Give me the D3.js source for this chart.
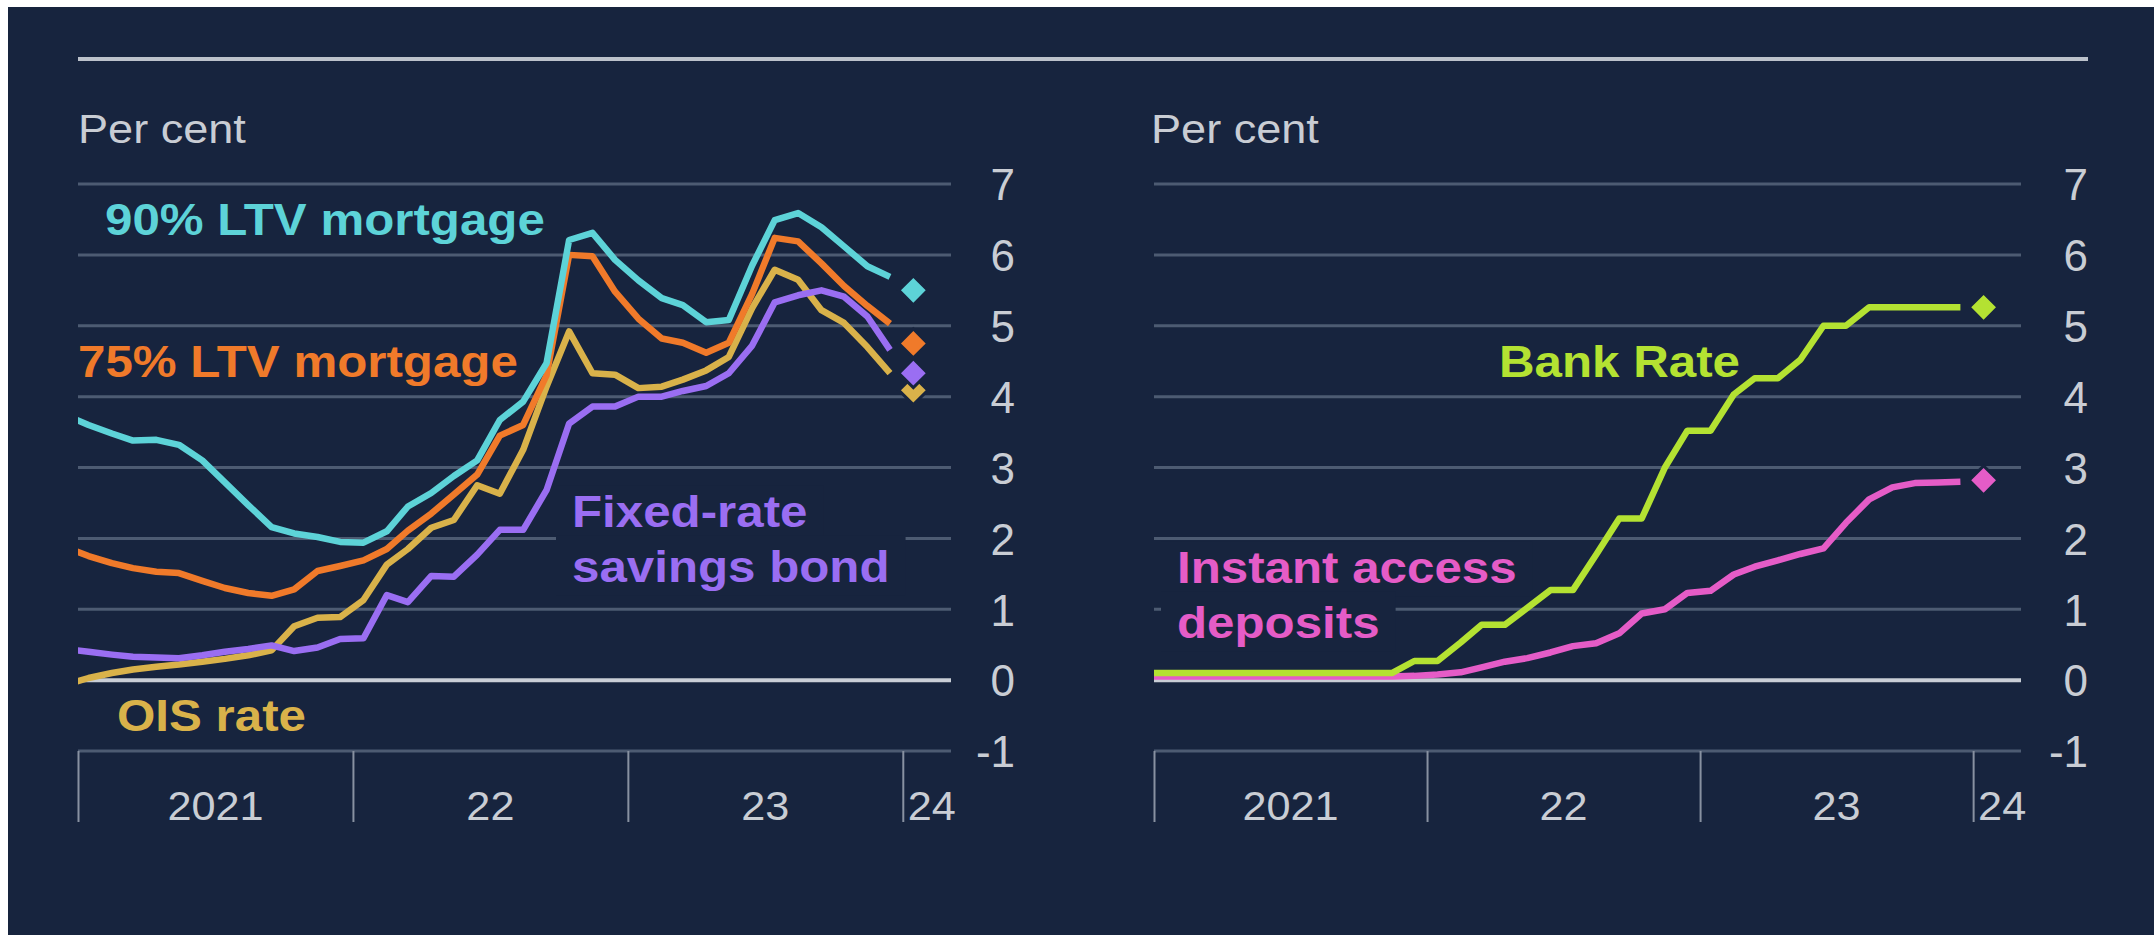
<!DOCTYPE html>
<html><head><meta charset="utf-8">
<script src="https://cdn.jsdelivr.net/npm/d3@7"></script>
<style>html,body{margin:0;padding:0;background:#fff;} svg{display:block;}</style>
</head><body>
<svg id="chart" width="2154" height="935"></svg>
<script>
// ---------- data ----------
const months = ["2020-12",
  "2021-01","2021-02","2021-03","2021-04","2021-05","2021-06","2021-07","2021-08","2021-09","2021-10","2021-11","2021-12",
  "2022-01","2022-02","2022-03","2022-04","2022-05","2022-06","2022-07","2022-08","2022-09","2022-10","2022-11","2022-12",
  "2023-01","2023-02","2023-03","2023-04","2023-05","2023-06","2023-07","2023-08","2023-09","2023-10","2023-11","2023-12"];
const latestMonth = "2024-01";
const yearTicks = ["2021-01","2022-01","2023-01","2024-01"];
const yearLabels = ["2021","22","23","24"];
const yTicks = [-1,0,1,2,3,4,5,6,7];

const mortgage90 = [3.74,
  3.60,3.48,3.38,3.39,3.32,3.10,2.79,2.47,2.16,2.07,2.02,1.95,
  1.94,2.10,2.45,2.64,2.88,3.10,3.67,3.93,4.47,6.21,6.31,5.93,
  5.64,5.39,5.29,5.05,5.08,5.85,6.49,6.59,6.39,6.12,5.84,5.69];
const mortgage75 = [1.88,
  1.75,1.65,1.58,1.53,1.51,1.40,1.30,1.23,1.19,1.28,1.54,1.61,
  1.69,1.85,2.11,2.35,2.62,2.90,3.45,3.60,4.30,6.00,5.98,5.48,
  5.10,4.82,4.76,4.62,4.76,5.45,6.24,6.19,5.88,5.56,5.28,5.03];
const oisRate = [-0.07,
  0.03,0.10,0.15,0.19,0.22,0.26,0.30,0.35,0.42,0.76,0.88,0.89,
  1.13,1.63,1.85,2.15,2.26,2.75,2.63,3.25,4.14,4.92,4.33,4.31,
  4.12,4.14,4.24,4.37,4.56,5.25,5.79,5.65,5.22,5.04,4.70,4.33];
const savingsBond = [0.44,
  0.40,0.36,0.33,0.32,0.31,0.35,0.40,0.44,0.49,0.41,0.46,0.58,
  0.59,1.20,1.10,1.47,1.46,1.77,2.12,2.12,2.68,3.62,3.86,3.86,
  4.00,4.00,4.08,4.15,4.33,4.72,5.33,5.43,5.50,5.41,5.13,4.66];
const bankRate = [0.10,
  0.10,0.10,0.10,0.10,0.10,0.10,0.10,0.10,0.10,0.10,0.10,0.27,
  0.27,0.53,0.78,0.78,1.02,1.27,1.27,1.77,2.28,2.28,3.00,3.52,
  3.52,4.03,4.26,4.26,4.52,5.00,5.00,5.26,5.26,5.26,5.26,5.26];
const instantAccess = [0.05,
  0.05,0.05,0.05,0.05,0.05,0.05,0.05,0.05,0.05,0.05,0.05,0.06,
  0.08,0.11,0.18,0.26,0.31,0.39,0.48,0.52,0.66,0.94,1.00,1.23,
  1.26,1.49,1.60,1.69,1.78,1.86,2.22,2.55,2.72,2.78,2.79,2.80];
// latest (Jan 2024) values shown as diamonds
const latest90 = 5.50, latest75 = 4.75, latestOIS = 4.09, latestBond = 4.33;
const latestBank = 5.26, latestInstant = 2.82;

// ---------- styling ----------
const BG = "#17243e", GRID = "#4d5b72", ZERO = "#c9ced6", TXT = "#c9cdd4";
const FONT = "'Liberation Sans', Arial, Helvetica, sans-serif";
const C = {cyan:"#5dd3d8", orange:"#f07a2a", gold:"#d9b24a", purple:"#9a6ef2", lime:"#b4e232", pink:"#e55cc7"};

const parseM = d3.timeParse("%Y-%m");
const mid = s => d3.timeDay.offset(parseM(s), 14);
const dates = months.map(mid);
const latestDate = mid(latestMonth);

const svg = d3.select("#chart");
svg.append("rect").attr("width",2154).attr("height",935).attr("fill","#ffffff");
svg.append("rect").attr("x",8).attr("y",7).attr("width",2146).attr("height",928).attr("fill",BG);

// top rule
svg.append("line").attr("x1",78).attr("x2",2088).attr("y1",59).attr("y2",59)
  .attr("stroke","#bcc2cb").attr("stroke-width",4);

const y = d3.scaleLinear().domain([-1,7]).range([751,184]);

function addText(g, x, yy, str, o) {
  const t = g.append("text")
    .attr("transform", `translate(${x},${yy}) scale(${o.sx||1},1)`)
    .attr("font-family", FONT).attr("font-size", o.size)
    .attr("font-weight", o.weight||"normal").attr("fill", o.fill)
    .attr("text-anchor", o.anchor||"start").text(str);
  return t;
}

const panels = [
  {id:"L", x0:78, x1:951, tickX:1015, perX:78,
   series:[
     {vals:oisRate, last:latestOIS, color:C.gold},
     {vals:mortgage75, last:latest75, color:C.orange},
     {vals:savingsBond, last:latestBond, color:C.purple},
     {vals:mortgage90, last:latest90, color:C.cyan}],
   labels:[
     {lines:["90% LTV mortgage"], x:105, y:235, color:C.cyan},
     {lines:["75% LTV mortgage"], x:78, y:377, color:C.orange},
     {lines:["Fixed-rate","savings bond"], x:572, y:527, color:C.purple, mask:true},
     {lines:["OIS rate"], x:117, y:731, color:C.gold}]},
  {id:"R", x0:1154, x1:2021, tickX:2088, perX:1151,
   series:[
     {vals:instantAccess, last:latestInstant, color:C.pink},
     {vals:bankRate, last:latestBank, color:C.lime}],
   labels:[
     {lines:["Bank Rate"], x:1499, y:377, color:C.lime},
     {lines:["Instant access","deposits"], x:1177, y:583, color:C.pink, mask:true}]}
];

panels.forEach(p => {
  const x = d3.scaleTime()
    .domain([new Date(2021,0,1), new Date(2024,2,5)])
    .range([p.x0, p.x1]);
  const g = svg.append("g");

  // "Per cent"
  addText(g, p.perX, 143, "Per cent", {size:41, fill:TXT, sx:1.1});

  // gridlines
  g.selectAll(".grid").data(yTicks.filter(v => v !== 0)).join("line")
    .attr("x1", p.x0).attr("x2", p.x1)
    .attr("y1", d => y(d)).attr("y2", d => y(d))
    .attr("stroke", GRID).attr("stroke-width", 3);

  // y tick labels (right side)
  const yAxis = d3.axisRight(y).tickValues(yTicks).tickSize(0).tickPadding(0)
    .tickFormat(d3.format("d"));
  const ya = g.append("g").attr("transform", `translate(${p.tickX},0)`).call(yAxis);
  ya.select(".domain").remove();
  ya.selectAll("text").attr("x",0).attr("dy","0.36em").attr("text-anchor","end")
    .attr("font-family", FONT).attr("font-size", 44).attr("fill", TXT)
    .text(d => d < 0 ? "-" + Math.abs(d) : d);

  // year ticks
  const yearDates = yearTicks.map(parseM);
  const xAxis = d3.axisBottom(x).tickValues(yearDates).tickSize(71).tickFormat("");
  const xa = g.append("g").attr("transform", `translate(0,${y(-1)})`).call(xAxis);
  xa.select(".domain").remove();
  xa.selectAll("line").attr("stroke", "#8891a1").attr("stroke-width", 2);

  // year labels
  yearDates.forEach((d, i) => {
    let lx, anchor;
    if (i < yearDates.length - 1) {
      lx = (x(d) + x(yearDates[i+1])) / 2; anchor = "middle";
    } else { lx = x(d) + 5; anchor = "start"; }
    addText(g, lx, 820, yearLabels[i], {size:40, fill:TXT, sx:1.08, anchor});
  });

  // label masks (break gridlines behind labels)
  const fs = 44, sx = 1.12, lh = 55;
  p.labels.filter(l => l.mask).forEach(l => {
    l.lines.forEach((s, i) => {
      const tmp = addText(g, -9999, -9999, s, {size:fs, weight:"bold", fill:l.color, sx});
      const w = tmp.node().getComputedTextLength() * sx;
      tmp.remove();
      const base = l.y + i * lh;
      const top = base - (i === 0 ? 0.95 : 1.05) * fs;
      g.append("rect").attr("x", l.x - 16).attr("y", top)
        .attr("width", w + 32).attr("height", base + 0.3 * fs - top).attr("fill", BG);
    });
  });

  // zero line
  g.append("line").attr("x1", p.x0).attr("x2", p.x1).attr("y1", y(0)).attr("y2", y(0))
    .attr("stroke", ZERO).attr("stroke-width", 4);

  // clip
  const clipId = "clip" + p.id;
  svg.append("clipPath").attr("id", clipId).append("rect")
    .attr("x", p.x0).attr("y", 150).attr("width", p.x1 - p.x0).attr("height", 650);

  const line = d3.line().x((d, i) => x(dates[i])).y(d => y(d));
  const lg = g.append("g").attr("clip-path", `url(#${clipId})`);
  p.series.forEach(s => {
    lg.append("path").datum(s.vals).attr("d", line)
      .attr("fill", "none").attr("stroke", s.color).attr("stroke-width", 6.5)
      .attr("stroke-linejoin", "round");
  });

  // latest diamonds
  const sym = d3.symbol(d3.symbolSquare, 420);
  p.series.forEach(s => {
    g.append("path").attr("d", sym())
      .attr("transform", `translate(${x(latestDate)},${y(s.last)}) rotate(45)`)
      .attr("fill", s.color).attr("stroke", BG).attr("stroke-width", 3);
  });

  // series labels
  p.labels.forEach(l => {
    l.lines.forEach((s, i) => {
      addText(g, l.x, l.y + i * lh, s, {size:fs, weight:"bold", fill:l.color, sx});
    });
  });
});
</script>
</body></html>
